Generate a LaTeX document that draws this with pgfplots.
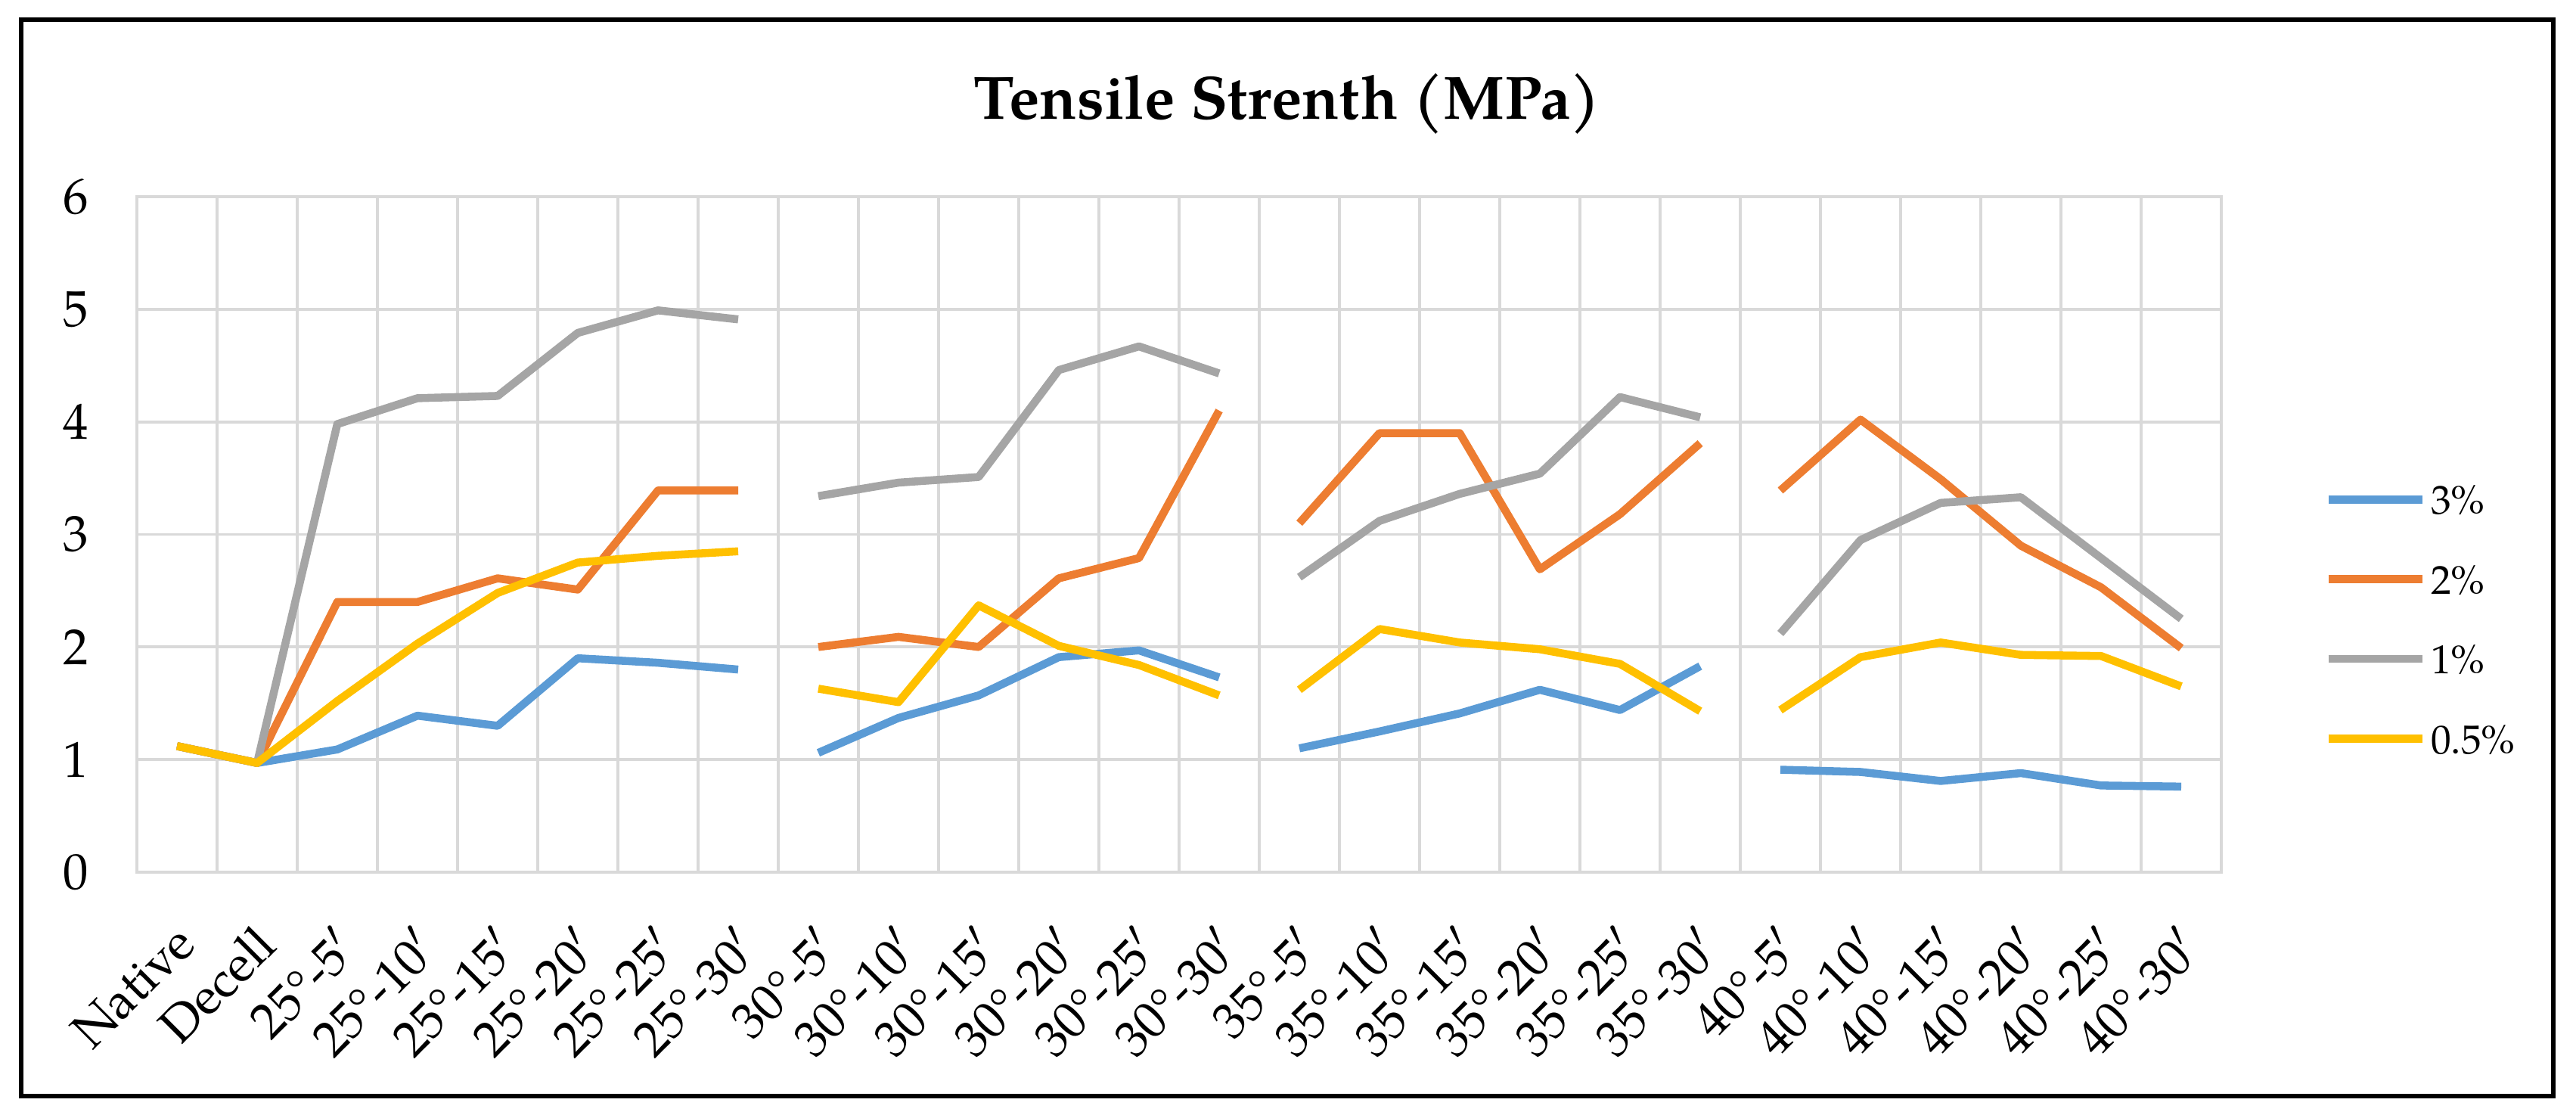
\documentclass[border=0pt]{standalone}
\usepackage{fontspec}
\setmainfont{TeX Gyre Pagella}
\usepackage{pgfplots}
\usepackage{pgfplotstable}
\pgfplotsset{compat=1.18}

\definecolor{c3}{HTML}{5B9BD5}
\definecolor{c2}{HTML}{ED7D31}
\definecolor{c1}{HTML}{A5A5A5}
\definecolor{c05}{HTML}{FFC000}
\definecolor{gridc}{HTML}{D9D9D9}

% tensile strength per group, nan rows break the line between groups
\pgfplotstableread{
x    s3   s2   s1   s05
0    1.12 1.12 1.12 1.12
1    0.97 0.97 0.97 0.97
2    1.09 2.40 3.98 1.52
3    1.39 2.40 4.21 2.03
4    1.30 2.61 4.23 2.48
5    1.90 2.51 4.79 2.75
6    1.86 3.39 4.99 2.81
7    1.80 3.39 4.91 2.85
7.5  nan  nan  nan  nan
8    1.06 2.00 3.34 1.63
9    1.37 2.09 3.46 1.51
10   1.57 2.00 3.51 2.37
11   1.91 2.61 4.46 2.01
12   1.97 2.79 4.67 1.84
13   1.73 4.10 4.43 1.57
13.5 nan  nan  nan  nan
14   1.10 3.10 2.62 1.62
15   1.25 3.90 3.12 2.16
16   1.41 3.90 3.36 2.04
17   1.62 2.69 3.54 1.98
18   1.44 3.18 4.22 1.85
19   1.83 3.81 4.04 1.43
19.5 nan  nan  nan  nan
20   0.91 3.39 2.12 1.44
21   0.89 4.02 2.95 1.91
22   0.81 3.49 3.28 2.04
23   0.88 2.90 3.33 1.93
24   0.77 2.53 2.79 1.92
25   0.76 1.99 2.25 1.65
}\tensile

\begin{document}
\begin{tikzpicture}
\path[use as bounding box] (-0.905,-1.605) rectangle (16.125,5.765);
\begin{axis}[
    at={(0,0)}, anchor=south west,
    scale only axis, width=13.78cm, height=4.465cm,
    xmin=-0.5, xmax=25.5, ymin=0, ymax=6,
    xtick={0,...,25},
    xticklabels={Native, Decell,
      25°-5$'$, 25°-10$'$, 25°-15$'$, 25°-20$'$, 25°-25$'$, 25°-30$'$,
      30°-5$'$, 30°-10$'$, 30°-15$'$, 30°-20$'$, 30°-25$'$, 30°-30$'$,
      35°-5$'$, 35°-10$'$, 35°-15$'$, 35°-20$'$, 35°-25$'$, 35°-30$'$,
      40°-5$'$, 40°-10$'$, 40°-15$'$, 40°-20$'$, 40°-25$'$, 40°-30$'$},
    minor xtick={-0.5,0.5,...,25.5},
    ytick={0,...,6},
    ymajorgrids, xminorgrids,
    major tick length=0pt, minor tick length=0pt,
    axis line style={draw=gridc, line width=0.6pt},
    grid style={draw=gridc, line width=0.55pt},
    minor grid style={draw=gridc, line width=0.55pt},
    tick label style={font=\fontsize{9.5}{11}\selectfont},
    /pgf/number format/assume math mode=true,
    yticklabel style={anchor=east, inner sep=0pt, xshift=-0.315cm},
    xticklabel style={inner sep=0pt, xshift=-0.03cm, yshift=-0.32cm, rotate=45, anchor=north east},
    unbounded coords=jump,
    every axis plot/.append style={line width=1.5pt, line join=round},
    legend image code/.code={\draw[#1] (0cm,0cm) -- (0.62cm,0cm);},
    legend cell align=left,
    legend style={draw=none, fill=none, inner sep=0pt,
      at={(axis description cs:1.049,0.3746)}, anchor=west,
      font=\fontsize{7.6}{9}\selectfont,
      row sep=9.4pt, column sep=0.03cm,
      nodes={inner sep=0pt, text height=5.6pt, text depth=0pt}},
  ]
  \addplot[c3, no markers] table[x=x, y=s3] {\tensile};
  \addlegendentry{3\%}
  \addplot[c2, no markers] table[x=x, y=s2] {\tensile};
  \addlegendentry{2\%}
  \addplot[c1, no markers] table[x=x, y=s1] {\tensile};
  \addlegendentry{1\%}
  \addplot[c05, no markers] table[x=x, y=s05] {\tensile};
  \addlegendentry{0.5\%}
\end{axis}
\node[anchor=base, font=\bfseries\fontsize{11.5}{14}\selectfont] at (7.605,4.975) {Tensile Strenth (MPa)};
\draw[line width=0.92pt] (-0.765,-1.48) rectangle (15.975,5.635);
\end{tikzpicture}
\end{document}
